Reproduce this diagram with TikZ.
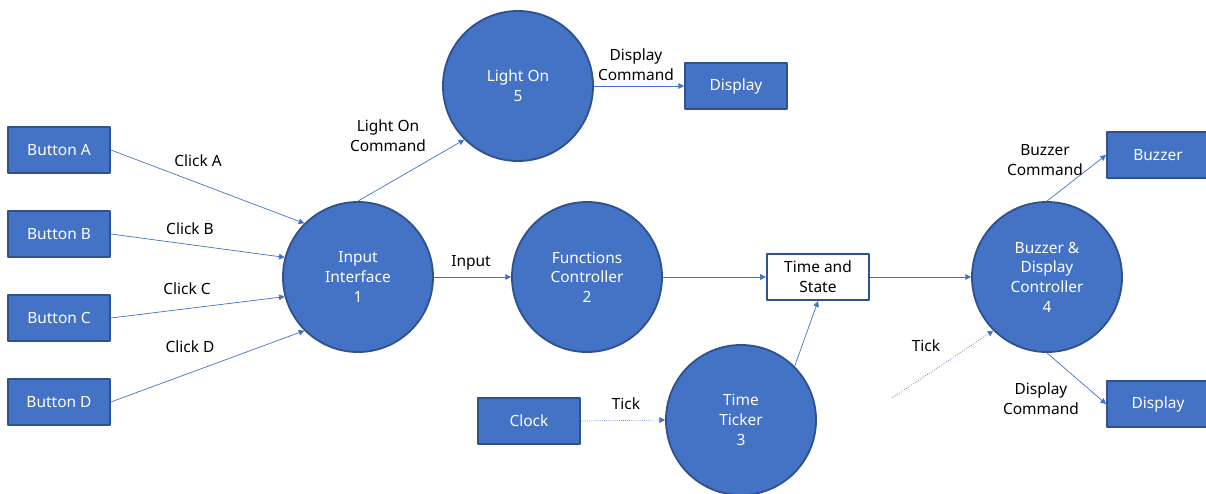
\documentclass[tikz,border=0pt]{standalone}
\usepackage{fontspec}
\setmainfont{Noto Sans}
\usetikzlibrary{arrows.meta}
\definecolor{procblue}{HTML}{4472C4}
\definecolor{edgeblue}{HTML}{2F528F}
\begin{document}
\begin{tikzpicture}[x=0.025cm, y=-0.025cm, line join = round, >={Triangle[length=4pt,width=4pt]}]
	\tikzset{proc/.style={circle, fill=procblue, draw=edgeblue, line width=1.3pt, minimum size=3.75cm, text=white, align=center, font=\fontsize{11}{14}\selectfont},
		ext/.style={rectangle, fill=procblue, draw=edgeblue, line width=1.3pt, minimum width=2.55cm, minimum height=1.15cm, text=white, font=\fontsize{11}{14}\selectfont},
		store/.style={rectangle, fill=white, draw=edgeblue, line width=1.6pt, minimum width=2.55cm, minimum height=1.15cm, align=center, font=\fontsize{11}{14}\selectfont},
		flow/.style={->, procblue, line width=0.5pt},
		lbl/.style={align=center, font=\fontsize{11}{14}\selectfont}}
	\useasboundingbox (0,0) rectangle (1206,494);
	% buttons on the left
	\node[ext] (btnA) at (59,150) {Button A};
	\node[ext] (btnB) at (59,234) {Button B};
	\node[ext] (btnC) at (59,318) {Button C};
	\node[ext] (btnD) at (59,402) {Button D};
	% processes
	\node[proc] (input) at (358,277) {Input\\Interface\\1};
	\node[proc] (light) at (518,86) {Light On\\5};
	\node[proc] (func) at (587,277) {Functions\\Controller\\2};
	\node[proc] (ticker) at (741,420) {Time\\Ticker\\3};
	\node[proc] (ctrl) at (1047,277) {Buzzer \&\\Display\\Controller\\4};
	% other entities
	\node[ext] (dispTop) at (736,86) {Display};
	\node[ext] (clock) at (529,421) {Clock};
	\node[ext] (buzzer) at (1158,155) {Buzzer};
	\node[ext] (dispBot) at (1158,404) {Display};
	\node[store] (state) at (818,277) {Time and\\State};
	\coordinate (tickIn) at (892,398);
	% flows
	\draw[flow] (btnA.east) -- (input.135);
	\draw[flow] (btnB.east) -- (input.165);
	\draw[flow] (btnC.east) -- (input.195);
	\draw[flow] (btnD.east) -- (input.225);
	\draw[flow] (input.north) -- (light.225);
	\draw[flow] (light.east) -- (dispTop.west);
	\draw[flow] (input.east) -- (func.west);
	\draw[flow] (func.east) -- (state.west);
	\draw[flow] (ticker.45) -- (state.south);
	\draw[flow] (state.east) -- (ctrl.west);
	\draw[flow, densely dotted] (clock.east) -- (ticker.west);
	\draw[flow, densely dotted] (tickIn) -- (ctrl.225);
	\draw[flow] (ctrl.north) -- (buzzer.west);
	\draw[flow] (ctrl.south) -- (dispBot.west);
	% flow labels
	\node[lbl] (lClickA) at (198,161) {Click A};
	\node[lbl] (lClickB) at (190,229) {Click B};
	\node[lbl] (lClickC) at (187,289) {Click C};
	\node[lbl] (lClickD) at (190,347) {Click D};
	\node[lbl] (lLight) at (388,136) {Light On\\Command};
	\node[lbl] (lInput) at (471,263) {Input};
	\node[lbl] (lDispTop) at (636,65) {Display\\Command};
	\node[lbl] (lTickA) at (626,404) {Tick};
	\node[lbl] (lTickB) at (926,346) {Tick};
	\node[lbl] (lBuzzer) at (1045,160) {Buzzer\\Command};
	\node[lbl] (lDispBot) at (1041,399) {Display\\Command};
\end{tikzpicture}
\end{document}
